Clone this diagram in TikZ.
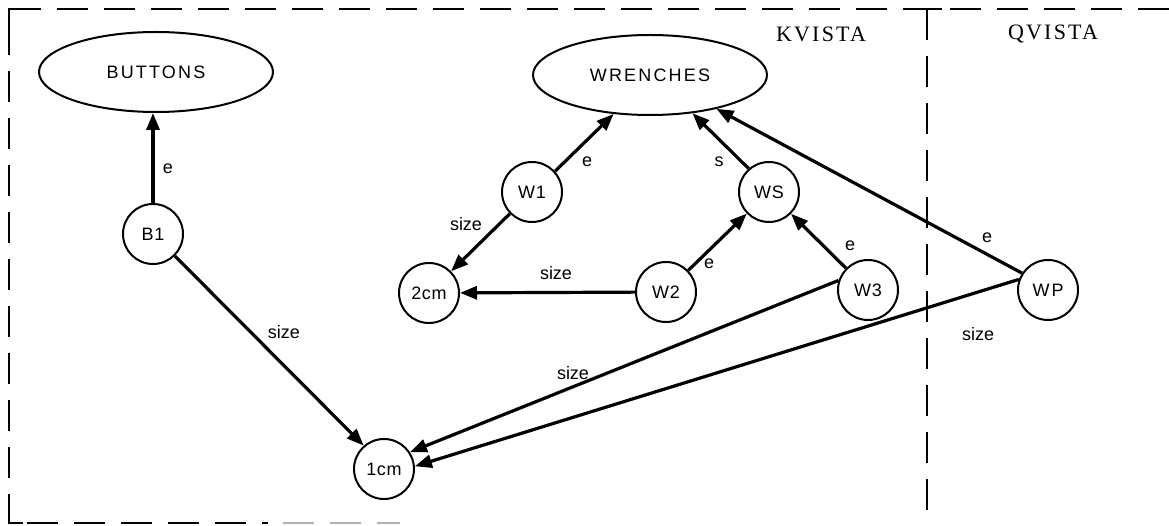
\documentclass[tikz,border=0pt]{standalone}
\usepackage{fontspec}
\setmainfont{Liberation Sans}
\newfontfamily\vistafont[LetterSpace=10]{Liberation Serif}
\newfontfamily\setfont[LetterSpace=12]{Liberation Sans}
\newfontfamily\objfont[LetterSpace=4]{Liberation Sans}
\usetikzlibrary{shapes.geometric,arrows.meta}
\begin{document}
\begin{tikzpicture}[x=1pt,y=-1pt,
  frameline/.style={line width=2pt,dash pattern=on 31pt off 16pt},
  setnode/.style={ellipse,draw,line width=2pt,minimum width=234pt,minimum height=80pt,inner sep=0pt,font=\setfont\fontsize{18}{21}\selectfont},
  objnode/.style={circle,draw,line width=2pt,minimum size=60pt,inner sep=0pt,font=\objfont\fontsize{18}{21}\selectfont},
  rel/.style={line width=3.2pt,-{Triangle[length=17pt,width=13pt]}},
  lbl/.style={inner sep=0pt,font=\fontsize{18}{21}\selectfont},
  vista/.style={inner sep=0pt,font=\vistafont\fontsize{22}{26}\selectfont}]
\useasboundingbox (0,0) rectangle (1169,526);
% frame
\draw[frameline] (1169,9) -- (9,9) -- (9,523) -- (268,523);
\draw[frameline,gray!60] (283,523) -- (400,523);
\draw[frameline] (927,9) -- (927,526);
\draw[line width=2pt] (912,9) -- (942,9);
\draw[line width=2pt] (9,40) -- (9,9) -- (30,9);
\draw[line width=2pt] (9,495) -- (9,523) -- (23,523);
% titles
\node[vista] (kvista) at (821,34) {KVISTA};
\node[vista] (qvista) at (1053,34) {QVISTA};
% nodes
\node[setnode] (buttons) at (156,72) {BUTTONS};
\node[setnode] (wrenches) at (650,75) {WRENCHES};
\node[objnode] (b1) at (153,234) {B1};
\node[objnode] (w1) at (532,192) {W1};
\node[objnode] (ws) at (769,192) {WS};
\node[objnode] (c2) at (429,293) {2cm};
\node[objnode] (w2) at (666,292) {W2};
\node[objnode] (w3) at (868,290) {W3};
\node[objnode] (wp) at (1048,290) {W\kern2pt P};
\node[objnode] (c1) at (384,469) {1cm};
% connectors
\draw[rel] (b1.north) -- (b1.north |- buttons.south);
\draw[rel] (b1) -- (c1.131);
\draw[rel] (w1.42) -- (wrenches.-133);
\draw[rel] (ws.131) -- (wrenches.-42);
\draw[rel] (wp.147) -- (wrenches.-27);
\draw[rel] (w1) -- (c2);
\draw[rel] (w2) -- (c2);
\draw[rel] (w2) -- (ws);
\draw[rel] (w3) -- (ws);
\draw[rel] (w3.162) -- (c1.33);
\draw[rel] (wp.160) -- (c1.5);
% labels
\node[lbl] (l1) at (168,169) {e};
\node[lbl] (l2) at (587,162) {e};
\node[lbl] (l3) at (719,162) {s};
\node[lbl] (l4) at (466,224) {size};
\node[lbl] (l5) at (556,273) {size};
\node[lbl] (l6) at (709,264) {e};
\node[lbl] (l7) at (850,246) {e};
\node[lbl] (l8) at (987,238) {e};
\node[lbl] (l9) at (978,334) {size};
\node[lbl] (l10) at (573,373) {size};
\node[lbl] (l11) at (284,332) {size};
\end{tikzpicture}
\end{document}
